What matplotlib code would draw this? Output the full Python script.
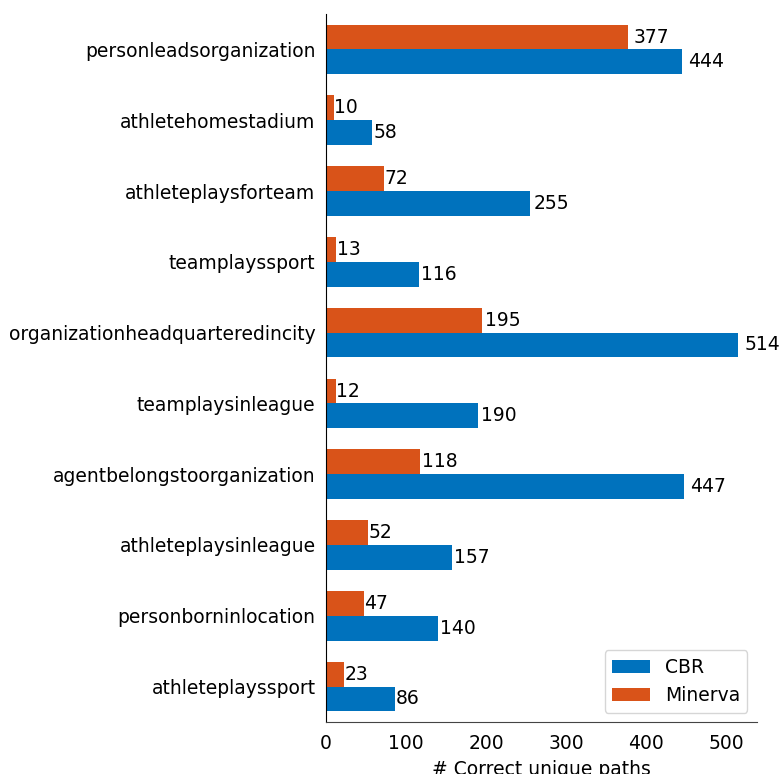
import numpy as np
import matplotlib.pyplot as plt

# Relations, listed top to bottom
relations = ['personleadsorganization', 'athletehomestadium', 'athleteplaysforteam',
             'teamplayssport', 'organizationheadquarteredincity', 'teamplaysinleague',
             'agentbelongstoorganization', 'athleteplaysinleague', 'personborninlocation',
             'athleteplayssport']
cbr = [444, 58, 255, 116, 514, 190, 447, 157, 140, 86]
minerva = [377, 10, 72, 13, 195, 12, 118, 52, 47, 23]


def main():
    fs = 13.5
    fig = plt.figure(figsize=(7.81, 7.74), dpi=100)
    ax = fig.add_axes([0.4174, 0.0672, 0.5516, 0.9147])

    y = np.arange(len(relations))
    h = 0.35
    b1 = ax.barh(y + h / 2, cbr, h, color='#0072BD', label='CBR')
    b2 = ax.barh(y - h / 2, minerva, h, color='#D95319', label='Minerva')

    for bars, vals in ((b1, cbr), (b2, minerva)):
        for bar, v in zip(bars, vals):
            ax.text(bar.get_width() * 1.018, bar.get_y() + bar.get_height() / 2, str(v),
                    va='center', ha='left', fontsize=fs)

    ax.set_yticks(y)
    ax.set_yticklabels(relations, fontsize=fs)
    ax.set_ylim(9.5, -0.5)
    ax.set_xlim(0, 538)
    ax.set_xticks([0, 100, 200, 300, 400, 500])
    ax.tick_params(axis='x', length=0, labelsize=fs, pad=9)
    ax.tick_params(axis='y', length=0, labelsize=fs, pad=7.5)
    ax.set_xlabel('# Correct unique paths', fontsize=fs, labelpad=5)

    ax.spines['top'].set_visible(False)
    ax.spines['right'].set_visible(False)
    ax.spines['bottom'].set_color('#444444')
    ax.spines['left'].set_color('black')

    ax.legend(loc='lower right', fontsize=fs, handlelength=2.0)

    fig.savefig('out.png', dpi=100)


if __name__ == '__main__':
    main()
